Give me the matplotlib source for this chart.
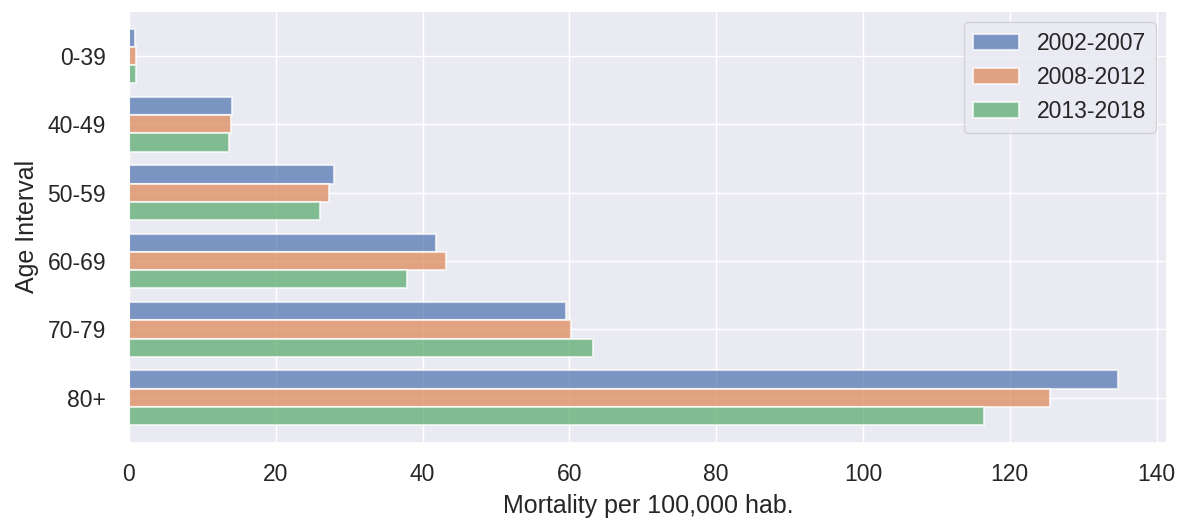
import numpy as np
import matplotlib
matplotlib.use("Agg")
import matplotlib.pyplot as plt
import seaborn as sns

sns.set_theme(style="darkgrid", font_scale=1.5)
plt.rcParams['font.family'] = ['Liberation Sans', 'DejaVu Sans']

# Data
age_groups = ['0-39', '40-49', '50-59', '60-69', '70-79', '80+']
periods = ['2002-2007', '2008-2012', '2013-2018']
mort_2002_2007 = [0.85, 14.0, 28.0, 41.8, 59.5, 134.7]
mort_2008_2012 = [0.9, 13.9, 27.2, 43.2, 60.2, 125.5]
mort_2013_2018 = [0.95, 13.6, 26.0, 37.9, 63.2, 116.5]

series = [mort_2002_2007, mort_2008_2012, mort_2013_2018]
colors = sns.color_palette("deep")[:3]

fig, ax = plt.subplots(figsize=(11.78, 5.21), dpi=100)
fig.subplots_adjust(left=0.1095, right=0.9907, top=0.979, bottom=0.150)

y = np.arange(len(age_groups))
w = 0.8 / 3
for i, (vals, lab) in enumerate(zip(series, periods)):
    ax.barh(y + (i - 1) * w, vals, height=w, color=colors[i], alpha=0.7,
            edgecolor='white', linewidth=1.5, label=lab)

ax.set_yticks(y)
ax.set_yticklabels(age_groups)
ax.set_ylim(5.66, -0.66)
ax.tick_params(axis='x', pad=plt.rcParams['xtick.major.pad'] + 5)
ax.tick_params(axis='y', pad=plt.rcParams['ytick.major.pad'] + 7)
lp = plt.rcParams['axes.labelpad']
ax.set_xlabel('Mortality per 100,000 hab.', labelpad=lp + 2)
ax.set_ylabel('Age Interval', labelpad=lp + 2)
ax.legend(loc='upper right')

fig.savefig('out.png', dpi=100)
